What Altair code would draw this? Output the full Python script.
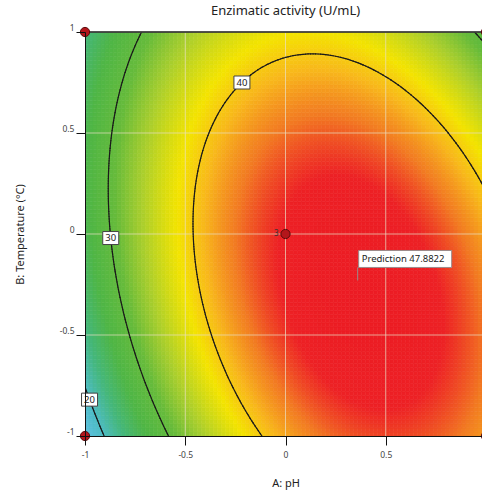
import numpy as np
import pandas as pd
import altair as alt

FONT = "Noto Sans"

# Quadratic response-surface model in coded units (A: pH, B: Temperature)
# order: intercept, A, B, AB, A^2, B^2
coef_values = [46.2, 7.8, -1.675, -5.03, -12.3, -6.2]

contour_levels = [20, 30, 40]
# contour labels: level and the B row where each label sits (left branch)
label_levels = [40, 30, 20]
label_rows = [0.75, -0.02, -0.82]

# design points (coded) and replicate counts
design_a = [-1, -1, 0, 1, 1]
design_b = [1, -1, 0, 1, -1]
design_reps = ["", "", "3", "", ""]

# prediction flag
pred_a = [0.36]
pred_b = [-0.23]
pred_text = ["Prediction  47.8822"]

axis_ticks = [-1, -0.5, 0, 0.5, 1]
grid_ticks = [-0.5, 0, 0.5]

# colour ramp for the response
color_values = [16, 20, 23.5, 27, 31, 34.5, 38.5, 41, 43.5, 46, 48]
color_hex = ["#62c2e6", "#4dbcc4", "#45b77a", "#4fb646", "#66bb3b", "#abcf2d",
             "#f4e400", "#f8b81b", "#f27b22", "#ed2125", "#ec1c24"]

PLOT_W, PLOT_H = 397, 404
FULL_W = 401  # width that the full -1..1 range would take
a_visible_max = -1 + 2 * PLOT_W / FULL_W

b0, bA, bB, bAB, bAA, bBB = coef_values


def response(a, b):
    return b0 + bA * a + bB * b + bAB * a * b + bAA * a * a + bBB * b * b


# ---- heat map cells ----
n = 100
edges = np.linspace(-1, 1, n + 1)
step = edges[1] - edges[0]
A0, B0 = np.meshgrid(edges[:-1], edges[:-1])
A0 = A0.ravel()
B0 = B0.ravel()
keep = A0 < a_visible_max
A0, B0 = A0[keep], B0[keep]
heat = pd.DataFrame({
    "a0": A0, "a1": A0 + step, "b0": B0, "b1": B0 + step,
    "val": response(A0 + step / 2, B0 + step / 2),
})


# ---- contour segments (marching squares) ----
def contour_segments(level, m=160):
    g = np.linspace(-1, 1, m + 1)
    AA, BB = np.meshgrid(g, g)
    F = response(AA, BB) - level
    rows = []
    for j in range(m):
        for i in range(m):
            corners = [(g[i], g[j], F[j, i]), (g[i + 1], g[j], F[j, i + 1]),
                       (g[i + 1], g[j + 1], F[j + 1, i + 1]), (g[i], g[j + 1], F[j + 1, i])]
            pts = []
            for k in range(4):
                a1, b1, f1 = corners[k]
                a2, b2, f2 = corners[(k + 1) % 4]
                if (f1 < 0) != (f2 < 0):
                    t = f1 / (f1 - f2)
                    pts.append((a1 + t * (a2 - a1), b1 + t * (b2 - b1)))
            if len(pts) >= 2:
                rows.append((pts[0][0], pts[0][1], pts[1][0], pts[1][1], level))
            if len(pts) == 4:
                rows.append((pts[2][0], pts[2][1], pts[3][0], pts[3][1], level))
    return rows


seg_rows = []
for lv in contour_levels:
    seg_rows += contour_segments(lv)
segs = pd.DataFrame(seg_rows, columns=["a", "b", "a2", "b2", "level"])


# ---- contour label positions: left root of f(a, row) = level ----
def left_root(level, row):
    qa = bAA
    qb = bA + bAB * row
    qc = b0 + bB * row + bBB * row * row - level
    disc = np.sqrt(qb * qb - 4 * qa * qc)
    return min((-qb + disc) / (2 * qa), (-qb - disc) / (2 * qa))


labels = pd.DataFrame({
    "a": [left_root(lv, r) for lv, r in zip(label_levels, label_rows)],
    "b": label_rows,
    "txt": [str(lv) for lv in label_levels],
})

design = pd.DataFrame({"a": design_a, "b": design_b, "rep": design_reps})
pred = pd.DataFrame({"a": pred_a, "b": pred_b, "txt": pred_text})
grid = pd.DataFrame({"g": grid_ticks})

xs = alt.Scale(domain=[-1, a_visible_max], nice=False, zero=False)
ys = alt.Scale(domain=[-1, 1], nice=False, zero=False)

lab_expr = "datum.value < 0 ? '-' + format(-datum.value, '') : format(datum.value, '')"

x_axis = alt.Axis(values=axis_ticks, title="A: pH", grid=False, zindex=1,
                  tickSize=9, tickColor="#111", domainColor="#111",
                  labelFontSize=8.5, labelColor="#444", labelFont=FONT,
                  labelPadding=5, labelFlush=False, labelExpr=lab_expr,
                  titleFont=FONT, titleFontSize=11, titleFontWeight="normal",
                  titleColor="#222", titleX=200.5, titleY=47,
                  titleBaseline="middle", titleAlign="center")
y_axis = alt.Axis(values=axis_ticks, title="B: Temperature (°C)", grid=False, zindex=1,
                  tickSize=9, tickColor="#111", domainColor="#111",
                  labelFontSize=8.5, labelColor="#444", labelFont=FONT,
                  labelPadding=2, labelBaseline="bottom", labelExpr=lab_expr,
                  titleFont=FONT, titleFontSize=11, titleFontWeight="normal",
                  titleColor="#222", titleX=-65, titleY=202, titleAngle=270,
                  titleBaseline="middle", titleAlign="center")


def X(field):
    return alt.X(field, scale=xs, axis=x_axis)


def Y(field):
    return alt.Y(field, scale=ys, axis=y_axis)


cscale = alt.Scale(domain=color_values, range=color_hex, interpolate="rgb")

heat_layer = alt.Chart(heat).mark_rect(strokeWidth=0.6, clip=True).encode(
    x=X("a0:Q"), x2="a1:Q",
    y=Y("b0:Q"), y2="b1:Q",
    color=alt.Color("val:Q", scale=cscale, legend=None),
    stroke=alt.Stroke("val:Q", scale=cscale, legend=None),
)

vgrid = alt.Chart(grid).mark_rule(color="#eadfc4", opacity=0.7, strokeWidth=1).encode(
    x=X("g:Q"))
hgrid = alt.Chart(grid).mark_rule(color="#eadfc4", opacity=0.7, strokeWidth=1).encode(
    y=Y("g:Q"))

contour_layer = alt.Chart(segs).mark_rule(
    color="#1a1a1a", strokeWidth=1.2, strokeCap="round", clip=True
).encode(x=X("a:Q"), x2="a2:Q", y=Y("b:Q"), y2="b2:Q")

top_line = alt.Chart(grid).mark_rule(color="#3a3a3a", strokeWidth=1.2).encode(
    y=alt.value(0))

label_box = alt.Chart(labels).mark_point(
    shape="M-8,-6.5H8V6.5H-8Z", size=4, filled=True, fill="white",
    stroke="#444", strokeWidth=1, opacity=1
).encode(x=X("a:Q"), y=Y("b:Q"))
label_txt = alt.Chart(labels).mark_text(
    fontSize=9.5, font=FONT, color="#222", baseline="middle", align="center"
).encode(x=X("a:Q"), y=Y("b:Q"), text="txt:N")

design_pts = alt.Chart(design).mark_point(
    shape="circle", filled=True, size=85, fill="#b3161b", stroke="#5a0a0a",
    strokeWidth=1, opacity=1
).encode(x=X("a:Q"), y=Y("b:Q"))
design_txt = alt.Chart(design).mark_text(
    fontSize=8, font=FONT, color="#333", align="right", baseline="middle", dx=-7
).encode(x=X("a:Q"), y=Y("b:Q"), text="rep:N")

pred_flag = alt.Chart(pred).mark_point(
    shape="M0,0V-13M1,-13H94V-30H1Z", size=4, filled=True, fill="white",
    stroke="#9a8a8a", strokeWidth=1, opacity=1
).encode(x=X("a:Q"), y=Y("b:Q"))
pred_txt = alt.Chart(pred).mark_text(
    fontSize=9.5, font=FONT, color="#222", align="left", baseline="middle",
    dx=4, dy=-21.5
).encode(x=X("a:Q"), y=Y("b:Q"), text="txt:N")

chart = alt.layer(
    heat_layer, vgrid, hgrid, contour_layer, top_line,
    label_box, label_txt, design_pts, design_txt, pred_flag, pred_txt,
).properties(
    width=PLOT_W, height=PLOT_H,
    title=alt.TitleParams("Enzimatic activity (U/mL)", fontSize=13,
                          fontWeight="normal", font=FONT, color="#222",
                          offset=5, anchor="middle", dx=2),
    autosize=alt.AutoSizeParams(type="none"),
    padding={"left": 85, "top": 32, "right": 0, "bottom": 54},
    background="white",
).configure_view(stroke=None)

chart.save("out.html", embed_options={"renderer": "svg", "actions": False})
